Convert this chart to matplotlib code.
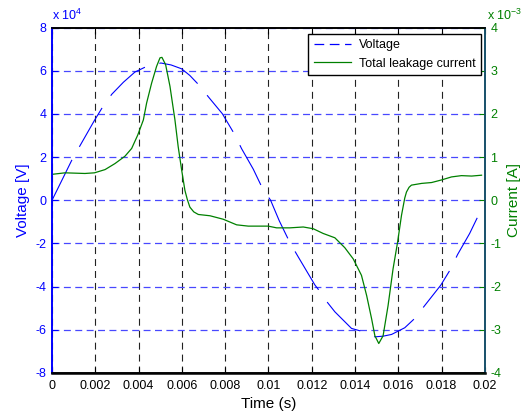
import matplotlib
matplotlib.use("Agg")
import matplotlib.pyplot as plt
from matplotlib.lines import Line2D
from matplotlib.ticker import FuncFormatter, MultipleLocator

plt.rcParams['font.family'] = ['Liberation Sans', 'DejaVu Sans']
plt.rcParams['mathtext.default'] = 'regular'
plt.rcParams['lines.scale_dashes'] = False

# ---- data ----
volt_t_ms = [0.0, 0.91, 1.26, 1.96, 2.32, 2.76, 3.30, 3.83, 4.37, 5.03, 5.50, 5.99,
             6.37, 6.76, 7.25, 7.87, 8.42, 8.76, 9.30, 9.73, 10.10, 10.50, 10.99,
             11.38, 12.15, 12.49, 12.73, 13.07, 13.53, 13.84, 14.26, 14.92, 15.30,
             15.69, 16.30, 16.77, 17.20, 17.97, 18.42, 18.74, 19.30, 19.72]
volt_kV10 = [0.0, 1.85, 2.47, 3.70, 4.29, 4.91, 5.47, 5.94, 6.20, 6.36, 6.27, 6.09,
             5.78, 5.37, 4.76, 4.01, 3.08, 2.39, 1.44, 0.54, 0.0, -0.95, -1.96,
             -2.63, -3.93, -4.37, -4.74, -5.17, -5.63, -5.94, -6.06, -6.33, -6.30,
             -6.22, -5.91, -5.47, -4.91, -3.93, -3.19, -2.52, -1.54, -0.67]

curr_t_ms = [0.0, 0.6, 1.52, 1.96, 2.45, 2.91, 3.37, 3.68, 3.96, 4.22, 4.37, 4.60,
             4.83, 4.99, 5.08, 5.25, 5.45, 5.68, 5.83, 5.99, 6.14, 6.25, 6.37, 6.55,
             6.76, 7.30, 7.91, 8.53, 9.07, 9.99, 10.38, 10.99, 11.61, 12.07, 12.53,
             13.07, 13.53, 13.92, 14.07, 14.30, 14.54, 14.77, 14.92, 15.10, 15.30,
             15.53, 15.76, 15.97, 16.15, 16.30, 16.38, 16.50, 16.61, 17.08, 17.54,
             18.00, 18.46, 18.92, 19.39, 19.85]
curr_mA = [0.60, 0.635, 0.62, 0.635, 0.71, 0.85, 1.02, 1.20, 1.51, 1.86, 2.25, 2.71,
           3.10, 3.30, 3.31, 3.14, 2.64, 1.86, 1.24, 0.70, 0.23, 0.02, -0.16, -0.27,
           -0.33, -0.36, -0.44, -0.57, -0.60, -0.60, -0.64, -0.64, -0.62, -0.66,
           -0.77, -0.87, -1.10, -1.36, -1.51, -1.74, -2.21, -2.75, -3.14, -3.32,
           -3.14, -2.44, -1.59, -0.97, -0.35, 0.05, 0.19, 0.30, 0.35, 0.39, 0.41,
           0.47, 0.54, 0.57, 0.56, 0.58]

time_s = [v / 1000.0 for v in volt_t_ms]
voltage_V = [v * 1e4 for v in volt_kV10]
ctime_s = [v / 1000.0 for v in curr_t_ms]
current_A = [v * 1e-3 for v in curr_mA]

x_ticks = [0, 0.002, 0.004, 0.006, 0.008, 0.01, 0.012, 0.014, 0.016, 0.018, 0.02]
x_tick_labels = ['0', '0.002', '0.004', '0.006', '0.008', '0.01', '0.012', '0.014',
                 '0.016', '0.018', '0.02']

BLUE = '#0000ff'
GREEN = '#008000'
SPINE_R = '#17506a'

fig = plt.figure(figsize=(5.31, 4.12), dpi=100)
ax = fig.add_axes([0.098, 0.095, 0.815, 0.838])
ax2 = ax.twinx()

ax.plot(time_s, voltage_V, color=BLUE, lw=0.8, linestyle=(0, (32.4, 10.8)))
ax2.plot(ctime_s, current_A, color=GREEN, lw=0.9)

ax.set_xlim(0, 0.02)
ax.set_ylim(-8e4, 8e4)
ax2.set_ylim(-4e-3, 4e-3)

ax.set_xticks(x_ticks)
ax.set_xticklabels(x_tick_labels)
ax.yaxis.set_major_locator(MultipleLocator(2e4))
ax.yaxis.set_major_formatter(FuncFormatter(lambda v, p: '%g' % round(v / 1e4, 6)))
ax2.yaxis.set_major_locator(MultipleLocator(1e-3))
ax2.yaxis.set_major_formatter(FuncFormatter(lambda v, p: '%g' % round(v / 1e-3, 6)))

# grid
ax.yaxis.grid(True, color='#4848ff', linestyle=(0, (5.0, 3.2)), lw=0.9)
ax.xaxis.grid(True, color='#222222', linestyle=(0, (5.0, 3.6)), lw=0.8)
ax.set_axisbelow(True)

# ticks
ax.tick_params(axis='x', direction='in', top=True, length=4, labelsize=9,
               colors='black', pad=5)
ax.tick_params(axis='y', direction='in', length=4, labelsize=9, colors=BLUE, pad=4)
ax2.tick_params(axis='y', direction='in', length=4, labelsize=9, colors=GREEN, pad=4)

for a in (ax, ax2):
    a.spines['left'].set_color(BLUE)
    a.spines['right'].set_color(SPINE_R)
    a.spines['top'].set_color('black')
    a.spines['bottom'].set_color('black')
    for s in a.spines.values():
        s.set_linewidth(1.2)
ax.spines['bottom'].set_linewidth(1.8)

ax.set_xlabel('Time (s)', fontsize=11, labelpad=4)
ax.set_ylabel('Voltage [V]', fontsize=11, color=BLUE, labelpad=4)
ax2.set_ylabel('Current [A]', fontsize=11, color=GREEN, labelpad=4)

ax.text(0.0, 1.012, r'x 10$^{4}$', transform=ax.transAxes, color=BLUE,
        fontsize=9, ha='left', va='bottom')
ax2.text(1.005, 1.012, r'x 10$^{-3}$', transform=ax2.transAxes, color=GREEN,
         fontsize=9, ha='left', va='bottom')

handles = [Line2D([], [], color=BLUE, lw=0.9, linestyle=(0, (7, 4))),
           Line2D([], [], color=GREEN, lw=0.9)]
leg = ax2.legend(handles, ['Voltage', 'Total leakage current'], loc='upper right',
                 bbox_to_anchor=(0.991, 0.982), fontsize=9, frameon=True,
                 fancybox=False, framealpha=1, edgecolor='black',
                 handlelength=3.0, borderpad=0.45, labelspacing=0.5,
                 handletextpad=0.6, borderaxespad=0)
leg.get_frame().set_linewidth(1.0)

fig.savefig('out.png', dpi=100)
